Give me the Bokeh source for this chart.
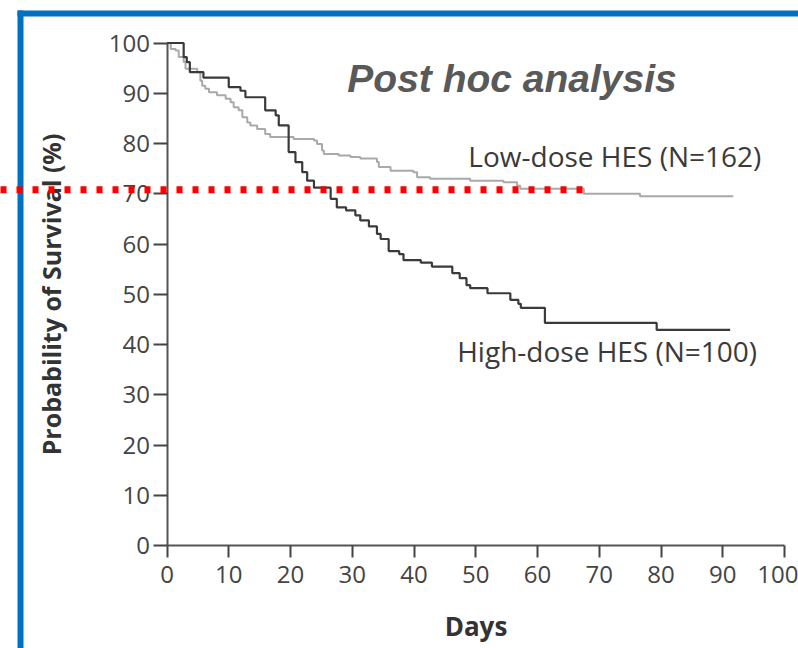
from bokeh.plotting import figure
from bokeh.models import Range1d, FixedTicker, Label
from bokeh.embed import file_html
from bokeh.resources import INLINE

# Kaplan-Meier estimates: day of event, % still alive after it
high_days = [0, 2.7, 3.2, 3.7, 5.9, 10.0, 11.9, 12.7, 15.9, 17.6,
             18.1, 19.7, 20.8, 21.9, 22.7, 23.8, 26.5, 27.5, 29.0, 30.5,
             31.3, 32.7, 34.0, 34.6, 35.9, 37.6, 38.3, 41.1, 42.9, 46.2,
             47.4, 48.5, 49.1, 51.9, 55.6, 56.9, 57.3, 61.2, 79.3, 91.2]
high_surv = [100, 97.2, 96.2, 94.2, 93.1, 91.2, 90.5, 89.2, 86.6, 85.6,
             83.6, 78.3, 76.3, 74.3, 72.6, 71.2, 69.0, 67.3, 66.7, 65.7,
             64.7, 63.5, 62.0, 61.0, 58.6, 58.0, 56.8, 56.3, 55.5, 54.2,
             53.2, 51.8, 51.2, 50.2, 48.9, 48.1, 47.3, 44.3, 42.9, 42.9]

low_days = [0, 0.6, 1.4, 1.9, 2.7, 3.0, 4.9, 5.4, 5.7, 6.2,
            6.8, 8.1, 9.5, 10.3, 10.8, 11.6, 12.2, 13.0, 13.5, 14.6,
            15.9, 16.7, 20.5, 23.8, 24.3, 25.1, 25.4, 27.8, 29.7, 31.3,
            34.0, 34.3, 36.2, 39.9, 40.5, 42.6, 49.1, 54.5, 56.7, 57.2,
            67.5, 76.6, 91.7]
low_surv = [100, 98.8, 98.5, 97.2, 96.2, 94.9, 94.2, 92.5, 91.5, 90.9,
            90.2, 89.6, 88.9, 88.2, 87.2, 86.6, 85.2, 84.2, 83.6, 82.9,
            81.9, 81.3, 80.9, 80.6, 79.9, 78.6, 77.9, 77.6, 77.3, 77.0,
            76.3, 75.3, 74.6, 74.3, 73.3, 73.0, 72.6, 72.3, 71.6, 71.0,
            70.0, 69.5, 69.5]

x_ticks = list(range(0, 101, 10))
y_ticks = list(range(0, 101, 10))

high_label = "High-dose HES (N=100)"
low_label = "Low-dose HES (N=162)"
title_text = "Post hoc analysis"

# highlighted survival level (dotted red marker) and where it stops
ref_level = 70.8
ref_end_day = 67.7

# canvas geometry: where day 0/100 and 0%/100% fall, in pixels
W, H = 798, 648
X0_PX, X100_PX = 166.5, 784.0
Y0_PX, Y100_PX = 545.0, 42.5
sx = (X100_PX - X0_PX) / 100.0
sy = (Y0_PX - Y100_PX) / 100.0
x_start, x_end = -X0_PX / sx, (W - X0_PX) / sx
y_start, y_end = -(H - Y0_PX) / sy, Y0_PX / sy


def data_x(px):
    return x_start + px / sx


def data_y(py):
    return y_end - py / sy


p = figure(width=W, height=H, x_range=Range1d(x_start, x_end),
           y_range=Range1d(y_start, y_end), output_backend="svg",
           toolbar_location=None, min_border=0)
p.outline_line_color = None
p.xgrid.visible = False
p.ygrid.visible = False
p.background_fill_color = "white"
p.border_fill_color = "white"

TEXT_FONT = "Open Sans"

for ax in (p.xaxis[0], p.yaxis[0]):
    ax.fixed_location = 0
    ax.bounds = (0, 100)
    ax.axis_line_color = "#555555"
    ax.axis_line_width = 2
    ax.major_tick_line_color = "#444444"
    ax.major_tick_line_width = 2
    ax.major_tick_in = 0
    ax.minor_tick_line_color = None
    ax.major_label_text_font = TEXT_FONT
    ax.major_label_text_font_size = "24px"
    ax.major_label_text_color = "#444444"
    ax.axis_label_text_font = TEXT_FONT
    ax.axis_label_text_font_style = "bold"
    ax.axis_label_text_color = "#333333"

p.xaxis[0].ticker = FixedTicker(ticks=x_ticks)
p.yaxis[0].ticker = FixedTicker(ticks=y_ticks)
p.xaxis[0].major_tick_out = 12
p.yaxis[0].major_tick_out = 14
p.xaxis[0].major_label_standoff = 8
p.yaxis[0].major_label_standoff = 3
p.xaxis[0].axis_label = "Days"
p.yaxis[0].axis_label = "Probability of Survival (%)"
p.xaxis[0].axis_label_text_font_size = "26px"
p.yaxis[0].axis_label_text_font_size = "25px"
p.xaxis[0].axis_label_standoff = 22
p.yaxis[0].axis_label_standoff = 38

# blue page frame (top and left edges)
p.quad(left=[data_x(17), data_x(17)], right=[data_x(W + 5), data_x(23)],
       top=[data_y(10), data_y(10)], bottom=[data_y(16), data_y(H + 5)],
       fill_color="#0070c0", line_color=None, level="underlay")

# survival curves
p.step(low_days, low_surv, mode="after", line_color="#a9a9a9", line_width=2)
p.step(high_days, high_surv, mode="after", line_color="#3a3a3a", line_width=2.2)

# dotted red marker across the chart
p.line([x_start, ref_end_day], [ref_level, ref_level], line_color="#ff0000",
       line_width=7, line_dash="6 10", line_cap="butt", level="overlay")

p.add_layout(Label(x=48.8, y=77.5, text=low_label, text_font=TEXT_FONT,
                   text_font_size="28px", text_color="#3a3a3a",
                   text_baseline="alphabetic"))
p.add_layout(Label(x=47.0, y=38.7, text=high_label, text_font=TEXT_FONT,
                   text_font_size="28px", text_color="#3a3a3a",
                   text_baseline="alphabetic"))
p.add_layout(Label(x=29.2, y=93.0, text=title_text,
                   text_font="Liberation Sans",
                   text_font_style="bold italic", text_font_size="39px",
                   text_color="#595959", text_baseline="alphabetic"))

open("out.html", "w").write(file_html(p, INLINE))
